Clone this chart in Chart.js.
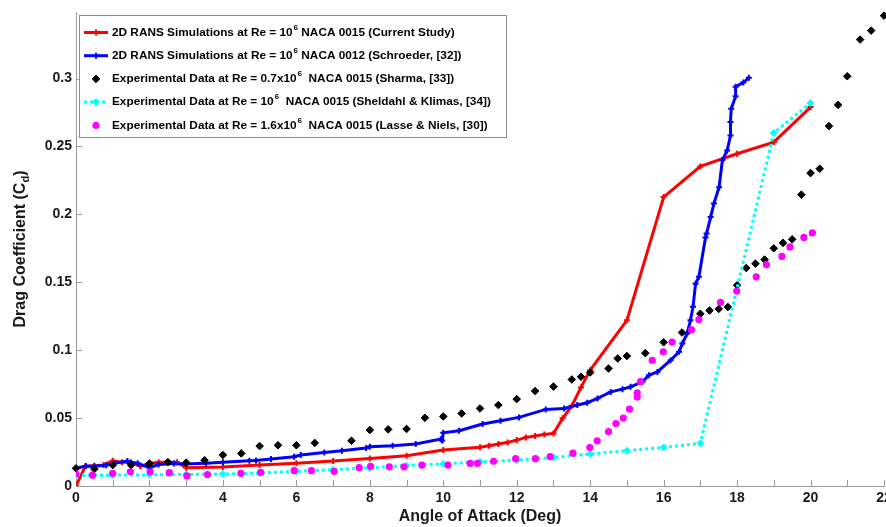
<!DOCTYPE html>
<html><head><meta charset="utf-8">
<script src="https://cdn.jsdelivr.net/npm/chart.js@4.4.0/dist/chart.umd.min.js"></script>
<style>html,body{margin:0;padding:0;background:#fff;overflow:hidden}</style>
</head><body><canvas id="c" width="886" height="527"></canvas>
<script>
// ---- data ----
const xTickValues = [0,1,2,3,4,5,6,7,8,9,10,11,12,13,14,15,16,17,18,19,20,21,22];
const xTickLabels = [0,2,4,6,8,10,12,14,16,18,20,22];
const yTickLabels = [0,0.05,0.1,0.15,0.2,0.25,0.3];

const redAoA = [0,0.25,0.5,0.75,1,1.25,1.5,1.75,2,2.25,2.5,2.75,3,4,5,6,7,8,9,10,11,11.25,11.5,11.75,12,12.25,12.5,12.75,13,13.25,13.5,13.75,14,15,16,17,18,19,20];
const redCd  = [0,0.0145,0.015,0.0155,0.0185,0.0175,0.0175,0.0145,0.0165,0.0175,0.0175,0.0175,0.0135,0.014,0.0155,0.0168,0.0184,0.0203,0.0222,0.0265,0.0285,0.0297,0.0309,0.0321,0.0338,0.0358,0.0368,0.038,0.0387,0.0498,0.059,0.0726,0.0853,0.122,0.2127,0.2353,0.2446,0.2532,0.279];

const blueAoA = [0,0.27,0.5,0.82,1.04,1.4,1.68,2,2.25,2.67,3,3.54,4,4.72,4.9,5.31,5.94,6.12,6.76,7.24,7.9,8,8.62,9.25,9.93,9.97,10,10.43,11.07,11.56,12.06,12.79,13.29,13.65,13.92,14.2,14.56,14.88,15.1,15.42,15.6,15.83,16.19,16.42,16.51,16.64,16.73,16.8,16.87,16.96,17.14,17.17,17.28,17.37,17.51,17.6,17.73,17.82,17.82,17.84,17.96,17.96,18.17,18.32];
const blueCd  = [0.013,0.0147,0.0145,0.0152,0.0167,0.0184,0.0167,0.0135,0.0158,0.0165,0.0162,0.0167,0.0174,0.0186,0.0188,0.0198,0.0216,0.0228,0.0246,0.026,0.028,0.0289,0.0296,0.0309,0.0345,0.0335,0.0392,0.0407,0.0456,0.048,0.0505,0.0564,0.0571,0.0596,0.0613,0.0645,0.0693,0.0713,0.073,0.0767,0.0816,0.084,0.0926,0.0988,0.105,0.1123,0.122,0.132,0.149,0.154,0.183,0.186,0.198,0.208,0.22,0.24,0.247,0.258,0.268,0.2777,0.287,0.294,0.297,0.3005];

const blackAoA = [0,0.5,1,1.5,2,2.5,3,3.5,4,4.5,5,5.5,6,6.5,7.5,8,8.5,9,9.5,10,10.5,11,11.5,12,12.5,13,13.5,13.75,14,14.5,14.75,15,15.5,16,16.5,17,17.25,17.5,17.75,18,18.25,18.5,18.75,19,19.25,19.5,19.75,20,20.25,20.5,20.75,21,21.35,21.65,22];
const blackCd  = [0.013,0.0125,0.0154,0.0154,0.0165,0.0176,0.0172,0.019,0.0228,0.024,0.0294,0.030,0.030,0.0317,0.0333,0.0412,0.0417,0.042,0.0502,0.0512,0.0534,0.0571,0.0596,0.064,0.0699,0.0732,0.0784,0.0804,0.0836,0.0865,0.0939,0.0957,0.0978,0.1058,0.113,0.1268,0.1292,0.1304,0.1318,0.1478,0.1605,0.1637,0.1667,0.175,0.179,0.1816,0.2145,0.2304,0.2336,0.265,0.2806,0.3017,0.3287,0.3353,0.3463];

const cyanAoA = [0,1,2,3,4,5,6,7,8,9,10,11,12,13,14,15,16,17,19,20];
const cyanCd  = [0.008,0.008,0.0082,0.0085,0.0088,0.0095,0.0108,0.012,0.0134,0.015,0.0163,0.0178,0.019,0.021,0.0235,0.026,0.0284,0.0314,0.26,0.282];

const magentaAoA = [0,0.45,1,1.48,2.02,2.54,3.02,3.58,4.49,5.03,5.94,6.41,7.03,7.71,8.02,8.53,8.93,9.42,10.13,10.73,10.93,11.37,11.97,12.51,12.91,13.53,13.99,14.19,14.5,14.7,14.9,15.07,15.28,15.28,15.37,15.69,15.99,16.23,16.76,16.96,17.55,17.99,18.52,18.8,19.22,19.44,19.82,20.05];
const magentaCd  = [0.009,0.008,0.0093,0.0105,0.0105,0.0098,0.0074,0.0084,0.0093,0.010,0.0113,0.0113,0.0108,0.0135,0.0145,0.0141,0.0141,0.0154,0.0154,0.0167,0.0167,0.0182,0.0201,0.0201,0.0216,0.0242,0.0283,0.0333,0.040,0.046,0.050,0.0567,0.0655,0.0685,0.0768,0.0926,0.0988,0.106,0.115,0.1225,0.1352,0.1435,0.154,0.163,0.169,0.176,0.183,0.1863];

// legend text: [before superscript, superscript, after]
const legendLabels = [
  ["2D RANS Simulations at Re = 10", "6", " NACA 0015 (Current Study)"],
  ["2D RANS Simulations at Re = 10", "6", " NACA 0012 (Schroeder, [32])"],
  ["Experimental Data at Re = 0.7x10", "6", "  NACA 0015 (Sharma, [33])"],
  ["Experimental Data at Re = 10", "6", "  NACA 0015 (Sheldahl & Klimas, [34])"],
  ["Experimental Data at Re = 1.6x10", "6", "  NACA 0015 (Lasse & Niels, [30])"]
];
const xTitle = "Angle of Attack (Deg)";
const yTitle = ["Drag Coefficient (C", "d", ")"];

// ---- chart ----
const FONT = '"Liberation Sans", Arial, sans-serif';
const pts = (xs, ys) => xs.map((x, i) => ({x: x, y: ys[i]}));

const datasets = [
  {data: pts(redAoA, redCd), showLine: true, borderColor: '#ff0000', backgroundColor: '#ff0000', borderWidth: 3,
   pointStyle: 'cross', pointRadius: 3, pointBorderWidth: 2, order: 5, legendLine: true},
  {data: pts(blueAoA, blueCd), showLine: true, borderColor: '#0000ff', backgroundColor: '#0000ff', borderWidth: 3,
   pointStyle: 'cross', pointRadius: 3, pointBorderWidth: 2, order: 4, legendLine: true},
  {data: pts(blackAoA, blackCd), showLine: false, borderColor: '#000000', backgroundColor: '#000000', borderWidth: 1,
   pointStyle: 'rectRot', pointRadius: 3.8, pointBorderWidth: 1, order: 3, clip: 10, legendLine: false},
  {data: pts(cyanAoA, cyanCd), showLine: true, borderColor: '#00ffff', backgroundColor: '#00ffff', borderWidth: 3,
   borderDash: [3, 3], pointStyle: 'rectRot', pointRadius: 3.5, pointBorderWidth: 1, order: 2, legendLine: true},
  {data: pts(magentaAoA, magentaCd), showLine: false, borderColor: '#ff00ff', backgroundColor: '#ff00ff', borderWidth: 0,
   pointStyle: 'circle', pointRadius: 3.6, pointBorderWidth: 0, order: 1, legendLine: false}
];

function marker(ctx, style, x, y, r, color, bw) {
  ctx.save();
  ctx.fillStyle = color; ctx.strokeStyle = color; ctx.lineWidth = bw; ctx.setLineDash([]);
  ctx.beginPath();
  if (style === 'cross') {
    ctx.moveTo(x - r, y); ctx.lineTo(x + r, y); ctx.moveTo(x, y - r); ctx.lineTo(x, y + r); ctx.stroke();
  } else if (style === 'rectRot') {
    ctx.moveTo(x, y - r); ctx.lineTo(x + r, y); ctx.lineTo(x, y + r); ctx.lineTo(x - r, y); ctx.closePath();
    ctx.fill(); if (bw) ctx.stroke();
  } else {
    ctx.arc(x, y, r, 0, Math.PI * 2); ctx.fill();
  }
  ctx.restore();
}

const tickPlugin = {
  id: 'inwardTicks',
  beforeDatasetsDraw(chart) {
    const ctx = chart.ctx, a = chart.chartArea, sx = chart.scales.x, sy = chart.scales.y;
    ctx.save();
    ctx.strokeStyle = '#9a9a9a'; ctx.lineWidth = 1;
    ctx.beginPath();
    sx.ticks.forEach(t => { const p = Math.round(sx.getPixelForValue(t.value)) + 0.5; ctx.moveTo(p, a.bottom); ctx.lineTo(p, a.bottom - 6); });
    sy.ticks.forEach(t => { const p = Math.round(sy.getPixelForValue(t.value)) + 0.5; ctx.moveTo(a.left, p); ctx.lineTo(a.left + 6, p); });
    ctx.stroke();
    ctx.restore();
  }
};

const overlayPlugin = {
  id: 'overlay',
  afterDraw(chart) {
    const ctx = chart.ctx, a = chart.chartArea;
    ctx.save();
    // axis titles
    ctx.fillStyle = '#1a1a1a';
    ctx.font = 'bold 16px ' + FONT;
    ctx.textBaseline = 'middle'; ctx.textAlign = 'left';
    const xw = ctx.measureText(xTitle).width;
    ctx.fillText(xTitle, (a.left + a.right) / 2 - xw / 2, 517);
    // y title rotated
    ctx.save();
    ctx.translate(21, (a.top + a.bottom) / 2);
    ctx.rotate(-Math.PI / 2);
    ctx.font = 'bold 16px ' + FONT;
    const w1 = ctx.measureText(yTitle[0]).width;
    ctx.font = 'bold 11px ' + FONT;
    const w2 = ctx.measureText(yTitle[1]).width;
    ctx.font = 'bold 16px ' + FONT;
    const w3 = ctx.measureText(yTitle[2]).width;
    let sx = -(w1 + w2 + w3) / 2;
    ctx.fillText(yTitle[0], sx, 0); sx += w1;
    ctx.font = 'bold 11px ' + FONT; ctx.fillText(yTitle[1], sx, 5); sx += w2;
    ctx.font = 'bold 16px ' + FONT; ctx.fillText(yTitle[2], sx, 0);
    ctx.restore();

    // legend box
    const bx = a.left + 3, by = a.top + 3, bw = 427, bh = 122;
    ctx.fillStyle = '#ffffff';
    ctx.fillRect(bx, by, bw, bh);
    ctx.strokeStyle = '#8c8c8c'; ctx.lineWidth = 1;
    ctx.strokeRect(bx + 0.5, by + 0.5, bw, bh);
    const rowY0 = by + 17.5, rowDy = 23.2;
    chart.data.datasets.forEach((ds, i) => {
      const cy = rowY0 + i * rowDy;
      const lx1 = bx + 5, lx2 = bx + 29, mx = bx + 17;
      if (ds.legendLine) {
        ctx.save();
        ctx.strokeStyle = ds.borderColor; ctx.lineWidth = ds.borderWidth;
        ctx.setLineDash(ds.borderDash || []);
        ctx.beginPath(); ctx.moveTo(lx1, cy); ctx.lineTo(lx2, cy); ctx.stroke();
        ctx.restore();
      }
      marker(ctx, ds.pointStyle, mx, cy, ds.pointRadius, ds.backgroundColor, ds.pointBorderWidth);
      const lab = legendLabels[i];
      let tx = bx + 33;
      ctx.fillStyle = '#000';
      ctx.textBaseline = 'middle'; ctx.textAlign = 'left';
      ctx.font = 'bold 11.8px ' + FONT;
      ctx.fillText(lab[0], tx, cy); tx += ctx.measureText(lab[0]).width + 1;
      ctx.font = 'bold 8px ' + FONT;
      ctx.fillText(lab[1], tx, cy - 5); tx += ctx.measureText(lab[1]).width;
      ctx.font = 'bold 11.8px ' + FONT;
      ctx.fillText(lab[2], tx, cy);
    });
    ctx.restore();
  }
};

new Chart(document.getElementById('c'), {
  type: 'scatter',
  data: {datasets: datasets},
  options: {
    responsive: false, animation: false, events: [],
    layout: {autoPadding: false, padding: {top: 12, right: 2, left: 0, bottom: 0}},
    plugins: {legend: {display: false}, tooltip: {enabled: false}},
    scales: {
      x: {
        type: 'linear', min: 0, max: 22,
        afterBuildTicks: s => { s.ticks = xTickValues.map(v => ({value: v})); },
        afterFit: s => { s.height = 41; s.paddingRight = 0; s.paddingLeft = 0; },
        ticks: {autoSkip: false, maxRotation: 0, padding: 4, color: '#1a1a1a',
          font: {family: FONT, size: 14, weight: 'bold'},
          callback: v => (xTickLabels.indexOf(v) >= 0 ? String(v) : '')},
        grid: {display: false, drawTicks: false, tickLength: 0},
        border: {display: true, color: '#9a9a9a', width: 1}
      },
      y: {
        type: 'linear', min: 0, max: 0.349,
        afterBuildTicks: s => { s.ticks = yTickLabels.map(v => ({value: v})); },
        afterFit: s => { s.width = 76; s.paddingTop = 0; s.paddingBottom = 0; },
        ticks: {autoSkip: false, padding: 4, color: '#1a1a1a',
          font: {family: FONT, size: 14, weight: 'bold'},
          callback: v => String(+v.toFixed(2))},
        grid: {display: false, drawTicks: false, tickLength: 0},
        border: {display: true, color: '#9a9a9a', width: 1}
      }
    }
  },
  plugins: [tickPlugin, overlayPlugin]
});
</script>
</body></html>
